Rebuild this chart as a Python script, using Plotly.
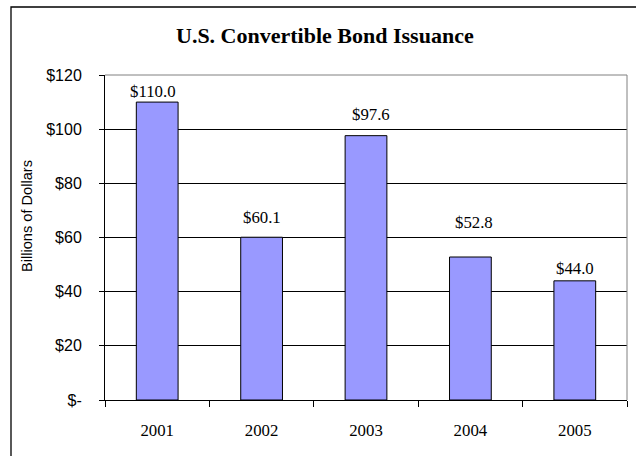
import plotly.graph_objects as go

# Data
years = ["2001", "2002", "2003", "2004", "2005"]
issuance = [110.0, 60.1, 97.6, 52.8, 44.0]
label_texts = ["$110.0", "$60.1", "$97.6", "$52.8", "$44.0"]
y_tickvals = [0, 20, 40, 60, 80, 100, 120]
y_ticktext = ["$-", "$20", "$40", "$60", "$80", "$100", "$120"]

# Label placement tweaks (pixels), as in the reference
label_yshift = [10.5, 20, 20.7, 34.7, 12.5]
label_xshift = [-4, 0, 5, 4, 0]

SANS = "Liberation Sans, Arial, sans-serif"
SERIF = "Liberation Serif, Times New Roman, serif"

W, H = 636, 456
L, R, T, B = 105, 9, 75, 56
PW, PH = W - L - R, H - T - B


def px(x):
    return (x - L) / PW


def py(y):
    return (H - B - y) / PH


fig = go.Figure()
fig.add_trace(go.Bar(
    x=years, y=issuance, width=0.4,
    marker=dict(color="#9999FF", line=dict(color="black", width=1)),
    hoverinfo="skip", showlegend=False,
))

for i, (v, t) in enumerate(zip(issuance, label_texts)):
    fig.add_annotation(
        x=i, y=v, xref="x", yref="y", text=t, showarrow=False,
        yanchor="middle", xanchor="center",
        yshift=label_yshift[i], xshift=label_xshift[i],
        font=dict(family=SERIF, size=16.8, color="black"),
    )

# Title
fig.add_annotation(
    x=px(325), y=py(36), xref="paper", yref="paper",
    text="<b>U.S. Convertible Bond Issuance</b>", showarrow=False,
    xanchor="center", yanchor="middle",
    font=dict(family=SERIF, size=22, color="black"),
)
# Y axis title
fig.add_annotation(
    x=px(27), y=py(216), xref="paper", yref="paper",
    text="Billions of Dollars", showarrow=False, textangle=-90,
    xanchor="center", yanchor="middle",
    font=dict(family=SANS, size=14.6, color="black"),
)

# Outer chart border
fig.add_shape(type="rect", xref="paper", yref="paper",
              x0=px(11), x1=px(645), y0=py(465), y1=py(7),
              line=dict(color="black", width=1.3), fillcolor="rgba(0,0,0,0)",
              layer="below")
# Plot area top/right gray border
fig.add_shape(type="line", xref="paper", yref="paper", x0=0, x1=1, y0=1, y1=1,
              line=dict(color="#808080", width=1), layer="above")
fig.add_shape(type="line", xref="paper", yref="paper", x0=1, x1=1, y0=0, y1=1,
              line=dict(color="#808080", width=1), layer="above")

fig.update_layout(
    width=W, height=H,
    margin=dict(l=L, r=R, t=T, b=B, pad=0),
    paper_bgcolor="white", plot_bgcolor="white",
    bargap=0.6,
)
fig.update_xaxes(
    type="category", tickson="boundaries", range=[-0.5, 4.5],
    ticks="outside", ticklen=6, tickcolor="black", tickwidth=1,
    showline=True, linecolor="black", linewidth=1,
    showgrid=False, ticklabelstandoff=15,
    tickfont=dict(family=SERIF, size=16.8, color="black"),
    fixedrange=True,
)
fig.update_yaxes(
    range=[0, 120], tickvals=y_tickvals, ticktext=y_ticktext,
    ticks="outside", ticklen=5, tickcolor="black", tickwidth=1,
    showline=True, linecolor="black", linewidth=1,
    showgrid=True, gridcolor="black", gridwidth=1,
    zeroline=False, ticklabelstandoff=14,
    tickfont=dict(family=SANS, size=16, color="black"),
    fixedrange=True,
)

fig.write_html("out.html")
